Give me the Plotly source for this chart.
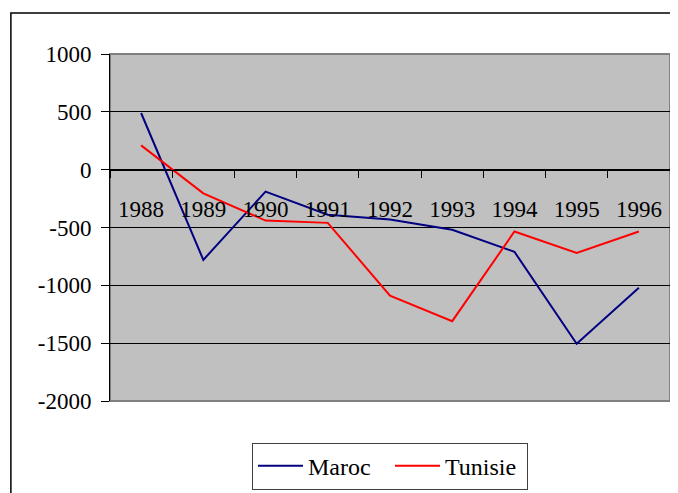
import plotly.graph_objects as go

years = ["1988", "1989", "1990", "1991", "1992", "1993", "1994", "1995", "1996"]
maroc = [490, -780, -190, -390, -430, -520, -710, -1505, -1020]
tunisie = [210, -205, -440, -460, -1090, -1310, -535, -720, -535]
y_ticks = [1000, 500, 0, -500, -1000, -1500, -2000]

FONT = '"Liberation Serif", "Times New Roman", Times, serif'

fig = go.Figure()
fig.add_trace(go.Scatter(x=years, y=maroc, mode="lines", name="Maroc",
                         line=dict(color="#000080", width=2)))
fig.add_trace(go.Scatter(x=years, y=tunisie, mode="lines", name="Tunisie",
                         line=dict(color="#FF0000", width=2)))

fig.update_layout(
    width=670, height=485,
    margin=dict(l=102, r=8, t=46, b=92, autoexpand=False),
    paper_bgcolor="white",
    plot_bgcolor="#C0C0C0",
    font=dict(family=FONT, size=23, color="black"),
    showlegend=True,
    legend=dict(orientation="h", x=0.5, xanchor="center", y=-0.12, yanchor="top",
                bordercolor="#404040", borderwidth=1, bgcolor="white",
                font=dict(family=FONT, size=24), itemwidth=45,
                entrywidth=77, entrywidthmode="pixels"),
    xaxis=dict(type="category", range=[-0.5, 8.5], anchor="free", position=2/3,
               tickson="boundaries", ticks="outside", ticklen=7, tickcolor="black",
               showline=True, linecolor="black", linewidth=1, showgrid=False,
               zeroline=False, ticklabelstandoff=19, automargin=False,
               tickfont=dict(family=FONT, size=23)),
    yaxis=dict(range=[-2000, 1000], tickvals=y_ticks, ticktext=[str(v) for v in y_ticks],
               showgrid=True, gridcolor="black", gridwidth=1,
               showline=True, linecolor="black", linewidth=1,
               ticks="outside", ticklen=8, tickcolor="black", zeroline=False,
               ticklabelstandoff=5, automargin=False,
               tickfont=dict(family=FONT, size=23)),
    shapes=[
        dict(type="rect", xref="paper", yref="paper", x0=0, x1=1, y0=0, y1=1,
             line=dict(color="#808080", width=2), layer="below"),
        dict(type="rect", xref="paper", yref="paper", x0=-0.177, x1=1.2, y0=-0.4, y1=1.118,
             line=dict(color="black", width=1.5), layer="below"),
    ],
)

fig.write_html("out.html")
